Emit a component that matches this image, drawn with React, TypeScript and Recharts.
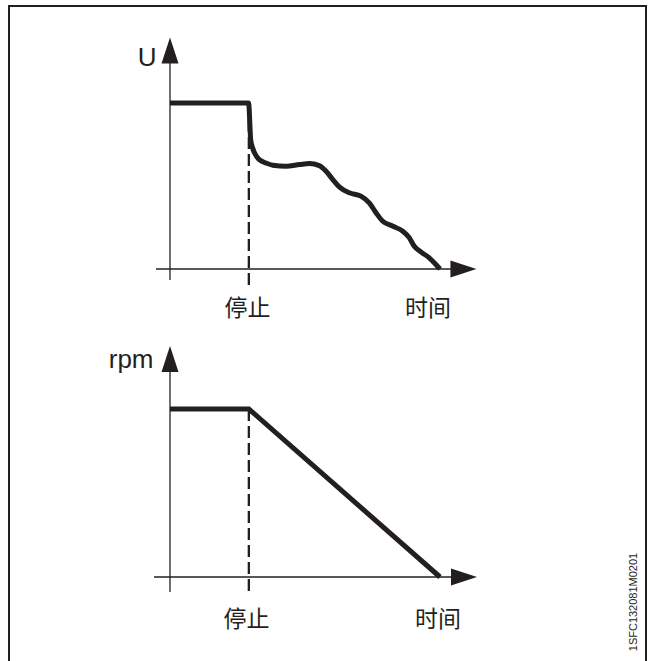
import React from 'react';
import { LineChart, Line, XAxis, YAxis, ReferenceLine, ReferenceDot } from 'recharts';

const INK = '#231f20';
const LATIN = '"Liberation Sans", Arial, sans-serif';
const CJK = '"Noto Sans CJK SC", "Noto Sans", sans-serif';

// voltage after stop (time and level in % of the plotted range)
const uTime = [0, 29.1, 29.9, 30.6, 32.1, 34.1, 35.8, 38.1, 43.0, 48.0, 51.6, 55.3, 57.8, 60.3, 62.7, 66.4, 70.7, 73.8, 76.3, 78.7, 82.4, 86.1, 88.6, 90.4, 92.9, 95.9, 98.4, 100];
const uLevel = [100, 100, 77.7, 72.9, 67.7, 64.8, 63.7, 62.5, 61.9, 62.9, 63.5, 62.3, 58.9, 53.9, 49.5, 45.9, 43.9, 39.9, 33.9, 28.9, 25.9, 22.9, 18.9, 13.9, 10.3, 6.9, 2.9, 0];

// speed ramps down linearly after stop
const rpmTime = [0, 29.2, 100];
const rpmLevel = [100, 100, 0];

const stopAt = 29.2;

const topTickPos = [28.7, 95.6];
const topTickLabels = ['停止', '时间'];
const bottomTickPos = [28.3, 99.3];
const bottomTickLabels = ['停止', '时间'];

const uData = uTime.map((t, i) => ({ t, v: uLevel[i] }));
const rpmData = rpmTime.map((t, i) => ({ t, v: rpmLevel[i] }));

const ArrowAxis = (props: any) => {
  const { x1, y1, x2, y2 } = props;
  const dx = x2 - x1;
  const dy = y2 - y1;
  const len = Math.hypot(dx, dy) || 1;
  const ux = dx / len;
  const uy = dy / len;
  const head = 26;
  const half = 8.5;
  const bx = x2 - ux * head;
  const by = y2 - uy * head;
  const px = -uy * half;
  const py = ux * half;
  return (
    <g>
      <line x1={x1} y1={y1} x2={bx + ux} y2={by + uy} stroke={INK} strokeWidth={1.3} />
      <polygon points={`${x2},${y2} ${bx + px},${by + py} ${bx - px},${by - py}`} fill={INK} />
    </g>
  );
};

interface PanelProps {
  data: { t: number; v: number }[];
  height: number;
  margin: { top: number; right: number; bottom: number; left: number };
  curve: 'monotone' | 'linear';
  ticks: number[];
  tickLabels: string[];
  tickMargin: number;
  title: string;
  titleAt: { x: number; y: number };
  xAxisFrom: number;
  xAxisTo: number;
  yAxisFrom: number;
  yAxisTo: number;
  dashTo: number;
}

const Panel: React.FC<PanelProps> = (p) => (
  <LineChart width={648} height={p.height} data={p.data} margin={p.margin}>
    <XAxis
      dataKey="t"
      type="number"
      domain={[0, 100]}
      ticks={p.ticks}
      interval={0}
      tickFormatter={(_v: number, i: number) => p.tickLabels[i]}
      axisLine={false}
      tickLine={false}
      tickSize={0}
      tickMargin={p.tickMargin}
      height={40}
      tick={{ fontSize: 23, fill: INK, fontFamily: CJK }}
    />
    <YAxis type="number" domain={[0, 100]} hide />
    <ReferenceLine
      segment={[{ x: stopAt, y: 100 }, { x: stopAt, y: p.dashTo }]}
      stroke={INK}
      strokeWidth={2.3}
      strokeDasharray="12 5"
      ifOverflow="visible"
    />
    <ReferenceLine
      segment={[{ x: p.xAxisFrom, y: 0 }, { x: p.xAxisTo, y: 0 }]}
      ifOverflow="visible"
      shape={ArrowAxis}
    />
    <ReferenceLine
      segment={[{ x: 0, y: p.yAxisFrom }, { x: 0, y: p.yAxisTo }]}
      ifOverflow="visible"
      shape={ArrowAxis}
    />
    <ReferenceDot
      x={p.titleAt.x}
      y={p.titleAt.y}
      r={1}
      fill="none"
      stroke="none"
      ifOverflow="visible"
      label={{ value: p.title, position: 'center', fontSize: 26, fill: INK, fontFamily: LATIN }}
    />
    <Line
      type={p.curve}
      dataKey="v"
      stroke={INK}
      strokeWidth={5}
      dot={false}
      activeDot={false}
      isAnimationActive={false}
    />
  </LineChart>
);

export default function App() {
  return (
    <div style={{ position: 'absolute', left: 0, top: 0, width: 648, height: 661, overflow: 'hidden', background: '#fff' }}>
      <div
        style={{
          position: 'absolute',
          left: 8,
          top: 5,
          width: 639,
          height: 700,
          boxSizing: 'border-box',
          borderLeft: `2px solid ${INK}`,
          borderTop: `2px solid ${INK}`,
          borderRight: `2.5px solid ${INK}`,
        }}
      />
      <div style={{ position: 'absolute', left: 0, top: 0 }}>
        <Panel
          data={uData}
          height={330}
          margin={{ top: 103, right: 208, bottom: 21, left: 170 }}
          curve="monotone"
          ticks={topTickPos}
          tickLabels={topTickLabels}
          tickMargin={31}
          title="U"
          titleAt={{ x: -8.5, y: 128 }}
          xAxisFrom={-5.2}
          xAxisTo={113.5}
          yAxisFrom={-6.6}
          yAxisTo={139.5}
          dashTo={-11.4}
        />
      </div>
      <div style={{ position: 'absolute', left: 0, top: 330 }}>
        <Panel
          data={rpmData}
          height={331}
          margin={{ top: 79, right: 208, bottom: 44, left: 170 }}
          curve="linear"
          ticks={bottomTickPos}
          tickLabels={bottomTickLabels}
          tickMargin={34}
          title="rpm"
          titleAt={{ x: -14.4, y: 129.9 }}
          xAxisFrom={-5.9}
          xAxisTo={113.7}
          yAxisFrom={-8.9}
          yAxisTo={137.5}
          dashTo={-10.7}
        />
      </div>
      <div
        style={{
          position: 'absolute',
          left: 633,
          top: 602,
          transform: 'translate(-50%, -50%) rotate(-90deg)',
          fontSize: 11,
          fontFamily: LATIN,
          color: INK,
          whiteSpace: 'nowrap',
          lineHeight: 1,
        }}
      >
        1SFC132081M0201
      </div>
    </div>
  );
}
